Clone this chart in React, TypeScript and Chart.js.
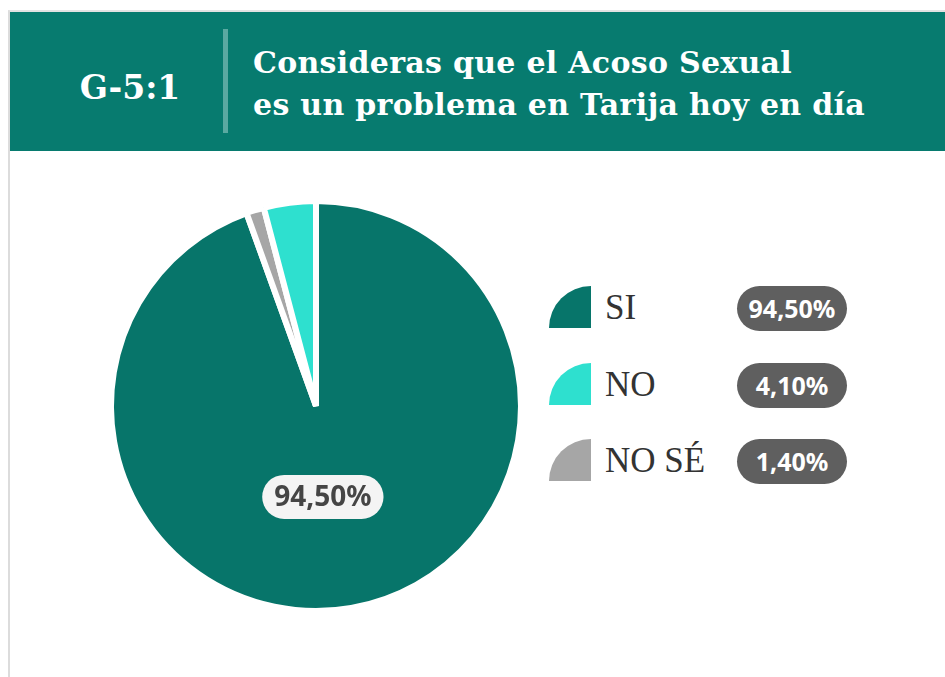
import React, { useEffect, useRef } from "react";
import { Chart, registerables } from "chart.js";

Chart.register(...registerables);

const categories = ["SI", "NO", "NO SÉ"];
const values = [94.5, 4.1, 1.4];
const colors = ["#07756a", "#2ee0cf", "#a6a6a6"];
const pieOrder = [0, 2, 1];
const labeledSlices = [0];
const chartCode = "G-5:1";
const titleLines = ["Consideras que el Acoso Sexual", "es un problema en Tarija hoy en día"];

const fmt = (v: number) => v.toFixed(2).replace(".", ",") + "%";

const pillPlugin = {
  id: "pillLabels",
  afterDatasetsDraw(chart: any) {
    const ctx = chart.ctx;
    const meta = chart.getDatasetMeta(0);
    meta.data.forEach((arc: any, i: number) => {
      const catIdx = pieOrder[i];
      if (!labeledSlices.includes(catIdx)) return;
      const p = arc.getProps(["x", "y", "startAngle", "endAngle", "outerRadius"], true);
      const mid = (p.startAngle + p.endAngle) / 2;
      const r = p.outerRadius * 0.45;
      const cx = p.x + Math.cos(mid) * r - 9;
      const cy = p.y + Math.sin(mid) * r;
      const text = fmt(values[catIdx]);
      ctx.save();
      ctx.font = "bold 28px 'Noto Sans'";
      const w = ctx.measureText(text).width + 24;
      const h = 44;
      ctx.fillStyle = "#f4f4f4";
      ctx.beginPath();
      ctx.roundRect(cx - w / 2, cy - h / 2, w, h, h / 2);
      ctx.fill();
      ctx.fillStyle = "#454545";
      ctx.textAlign = "center";
      ctx.textBaseline = "middle";
      ctx.fillText(text, cx, cy + 1);
      ctx.restore();
    });
  },
};

export default function App() {
  const ref = useRef<HTMLCanvasElement>(null);
  useEffect(() => {
    if (!ref.current) return;
    const chart = new Chart(ref.current, {
      type: "pie",
      data: {
        labels: pieOrder.map((i) => categories[i]),
        datasets: [
          {
            data: pieOrder.map((i) => values[i]),
            backgroundColor: pieOrder.map((i) => colors[i]),
            borderColor: "#ffffff",
            borderWidth: 6,
          },
        ],
      },
      options: {
        animation: false,
        responsive: false,
        radius: 205,
        layout: { padding: 0 },
        plugins: { legend: { display: false }, tooltip: { enabled: false } },
      },
      plugins: [pillPlugin],
    });
    return () => chart.destroy();
  }, []);

  const rowTops = [286, 363, 439];
  return (
    <div style={{ position: "fixed", left: 0, top: 0, width: 945, height: 677, background: "#fff", overflow: "hidden" }}>
      <div style={{ position: "absolute", left: 8, top: 10, width: 937, height: 667, borderLeft: "2px solid #dcdcdc", borderTop: "2px solid #e2e2e2", boxSizing: "border-box" }} />
      <div style={{ position: "absolute", left: 10, top: 12, width: 935, height: 139, background: "#077b6f" }} />
      <div style={{ position: "absolute", left: 60, top: 66, width: 140, textAlign: "center", fontFamily: "'DejaVu Serif'", fontWeight: "bold", fontSize: 33, lineHeight: "44px", color: "#fff" }}>
        {chartCode}
      </div>
      <div style={{ position: "absolute", left: 223, top: 29, width: 5, height: 104, background: "#5aa9a1" }} />
      <div style={{ position: "absolute", left: 253, top: 42, fontFamily: "'DejaVu Serif'", fontWeight: "bold", fontSize: 30, letterSpacing: 0.3, lineHeight: "42px", color: "#fff", whiteSpace: "nowrap" }}>
        {titleLines.map((t, i) => (
          <div key={i}>{t}</div>
        ))}
      </div>
      <canvas ref={ref} width={440} height={440} style={{ position: "absolute", left: 96, top: 186, width: 440, height: 440 }} />
      {categories.map((c, i) => (
        <React.Fragment key={c}>
          <div style={{ position: "absolute", left: 549, top: rowTops[i], width: 42, height: 42, background: colors[i], borderTopLeftRadius: "100%" }} />
          <div style={{ position: "absolute", left: 605, top: rowTops[i] - 1, height: 46, lineHeight: "46px", fontFamily: "'Liberation Serif'", fontSize: 35, color: "#333", whiteSpace: "nowrap" }}>
            {c}
          </div>
          <div style={{ position: "absolute", left: 737, top: rowTops[i], width: 110, height: 45, borderRadius: 22.5, background: "#5f5f5f", color: "#fff", fontFamily: "'Noto Sans'", fontWeight: "bold", fontSize: 25, lineHeight: "45px", textAlign: "center" }}>
            {fmt(values[i])}
          </div>
        </React.Fragment>
      ))}
    </div>
  );
}
